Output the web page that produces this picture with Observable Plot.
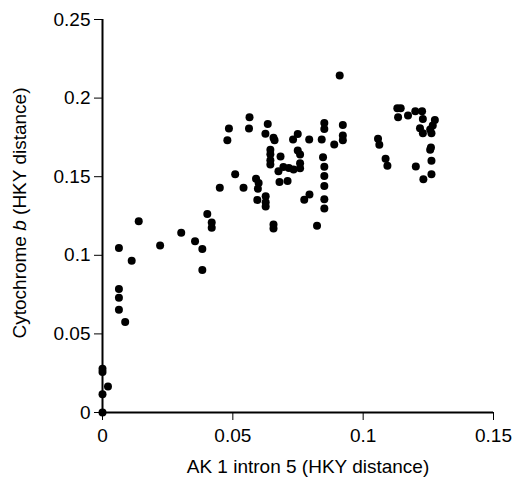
<!DOCTYPE html>
<html>
<head>
<meta charset="utf-8">
<script src="https://cdn.jsdelivr.net/npm/d3@7"></script>
<script src="https://cdn.jsdelivr.net/npm/@observablehq/plot@0.6"></script>
<style>
  html, body { margin: 0; padding: 0; background: #fff; }
  svg { display: block; }
</style>
</head>
<body>
<div id="chart"></div>
<script>
// AK 1 intron 5 HKY distance (x) vs Cytochrome b HKY distance (y)
const akIntron = [
  0, 0, 0.0021, 0, 0,
  0.0063, 0.0063, 0.0063, 0.0063, 0.0087, 0.0112, 0.0139, 0.0221, 0.0302, 0.0355,
  0.0383, 0.0383, 0.0402, 0.0419, 0.0419, 0.045, 0.0479, 0.0485, 0.0509, 0.0541,
  0.0562, 0.0564, 0.0589, 0.0599, 0.0596, 0.0594, 0.0625, 0.0634, 0.0626, 0.0626,
  0.0626, 0.0644, 0.0644, 0.0644, 0.0644, 0.0656, 0.066, 0.0656, 0.0656, 0.0683,
  0.0675, 0.0694, 0.0715, 0.0733, 0.0679, 0.071, 0.0731, 0.0749, 0.0749, 0.0758,
  0.0758, 0.0758, 0.0774, 0.0794, 0.0793, 0.0823, 0.0841, 0.0846, 0.0851, 0.0851,
  0.0851, 0.0851, 0.0851, 0.0851, 0.0851, 0.0889, 0.091, 0.0922, 0.0922, 0.0922,
  0.1057, 0.1062, 0.1086, 0.1093, 0.1131, 0.1144, 0.1134, 0.1172, 0.12, 0.1226,
  0.1229, 0.1218, 0.1229, 0.1275, 0.1267, 0.1257, 0.1262, 0.1202, 0.126, 0.1257,
  0.1262, 0.1231, 0.1262
];
const cytB = [
  0, 0.0116, 0.0165, 0.0278, 0.0257,
  0.1046, 0.0785, 0.073, 0.0654, 0.0576, 0.0966, 0.1217, 0.1063, 0.1143, 0.1089,
  0.104, 0.0907, 0.1262, 0.1209, 0.1175, 0.143, 0.1732, 0.1806, 0.1515, 0.143,
  0.1806, 0.1878, 0.1487, 0.146, 0.1424, 0.1352, 0.1774, 0.1835, 0.1376, 0.1338,
  0.131, 0.1671, 0.1643, 0.1605, 0.1578, 0.1747, 0.1732, 0.1196, 0.1171, 0.1629,
  0.1534, 0.1561, 0.1555, 0.1546, 0.1466, 0.1473, 0.1736, 0.1772, 0.1667, 0.1641,
  0.1586, 0.1553, 0.1354, 0.1386, 0.1736, 0.1188, 0.1736, 0.1624, 0.1842, 0.1804,
  0.1563, 0.1504, 0.1441, 0.1357, 0.1297, 0.1705, 0.2143, 0.1829, 0.1762, 0.1732,
  0.1741, 0.1703, 0.1614, 0.157, 0.1935, 0.1935, 0.1878, 0.189, 0.1916, 0.1916,
  0.1867, 0.1808, 0.1776, 0.1861, 0.1825, 0.18, 0.1776, 0.1565, 0.1686, 0.1671,
  0.1601, 0.1483, 0.1515
];

const xTicks = [0, 0.05, 0.1, 0.15];
const xTickLabels = ["0", "0.05", "0.1", "0.15"];
const yTicks = [0, 0.05, 0.1, 0.15, 0.2, 0.25];
const yTickLabels = ["0", "0.05", "0.1", "0.15", "0.2", "0.25"];

const xTitle = "AK 1 intron 5 (HKY distance)";
const yTitleParts = ["Cytochrome ", "b", " (HKY distance)"];

const points = akIntron.map((x, i) => ({x, y: cytB[i]}));

const FONT = "'Liberation Sans', Arial, sans-serif";

const chart = Plot.plot({
  width: 514,
  height: 484,
  marginLeft: 102,
  marginRight: 21,
  marginTop: 19,
  marginBottom: 72,
  style: {fontFamily: FONT, fontSize: "19px", color: "#000", background: "#fff"},
  x: {domain: [0, 0.15]},
  y: {domain: [0, 0.25]},
  marks: [
    Plot.axisX({
      ticks: xTicks,
      tickFormat: (d) => xTickLabels[xTicks.indexOf(d)],
      tickSize: 8,
      tickPadding: 8,
      fontSize: 19,
      label: null,
      stroke: "#000"
    }),
    Plot.axisY({
      ticks: yTicks,
      tickFormat: (d) => yTickLabels[yTicks.indexOf(d)],
      tickSize: 8,
      tickPadding: 4,
      fontSize: 19,
      label: null,
      stroke: "#000"
    }),
    Plot.ruleX([0], {stroke: "#000", strokeWidth: 2}),
    Plot.ruleY([0], {stroke: "#000", strokeWidth: 2}),
    Plot.dot(points, {x: "x", y: "y", r: 4, fill: "#000", stroke: "none"})
  ]
});

const svg = d3.select(chart);
svg.append("text")
  .attr("x", 308)
  .attr("y", 473)
  .attr("text-anchor", "middle")
  .attr("font-family", FONT)
  .attr("font-size", 19)
  .attr("fill", "#000")
  .text(xTitle);

const yt = svg.append("text")
  .attr("transform", "translate(26,213) rotate(-90)")
  .attr("text-anchor", "middle")
  .attr("font-family", FONT)
  .attr("font-size", 19)
  .attr("fill", "#000");
yTitleParts.forEach((t, i) => {
  const ts = yt.append("tspan").text(t);
  if (i === 1) ts.attr("font-style", "italic");
});

document.getElementById("chart").appendChild(chart);
</script>
</body>
</html>
